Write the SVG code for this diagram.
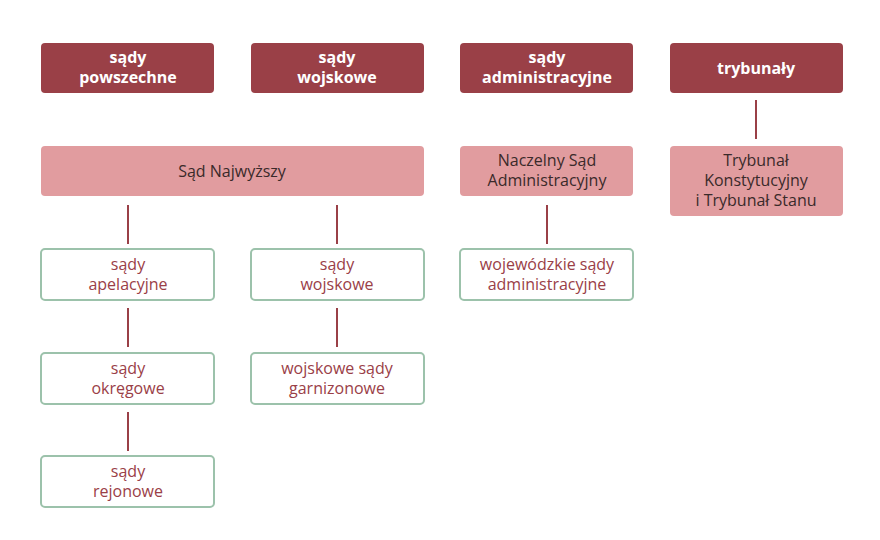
<svg xmlns="http://www.w3.org/2000/svg" width="880" height="540" viewBox="0 0 880 540">
<style>
.h{fill:#9a4047}.p{fill:#e19c9f}.g{fill:#fff;stroke:#9cc2ab;stroke-width:2}
text{font-family:"Open Sans",sans-serif;font-size:16px;text-anchor:middle}
.ht{fill:#fff;font-weight:bold}.pt{fill:#3a2a2a}.gt{fill:#9a4047}
.c line{stroke:#9a4047;stroke-width:2}
</style>
<rect width="880" height="540" fill="#fff"/>
<g id="n1"><rect class="h" x="41" y="43" width="173" height="50" rx="4"/><text class="ht" x="128" y="63">sądy</text><text class="ht" x="128" y="83">powszechne</text></g>
<g id="n2"><rect class="h" x="251" y="43" width="173" height="50" rx="4"/><text class="ht" x="337" y="63">sądy</text><text class="ht" x="337" y="83">wojskowe</text></g>
<g id="n3"><rect class="h" x="460" y="43" width="173" height="50" rx="4"/><text class="ht" x="547" y="63">sądy</text><text class="ht" x="547" y="83">administracyjne</text></g>
<g id="n4"><rect class="h" x="670" y="43" width="173" height="50" rx="4"/><text class="ht" x="756" y="74">trybunały</text></g>
<g id="sn"><rect class="p" x="41" y="146" width="383" height="50" rx="4"/><text class="pt" x="232" y="177">Sąd Najwyższy</text></g>
<g id="nsa"><rect class="p" x="460" y="146" width="173" height="50" rx="4"/><text class="pt" x="547" y="166">Naczelny Sąd</text><text class="pt" x="547" y="186">Administracyjny</text></g>
<g id="tk"><rect class="p" x="670" y="146" width="173" height="70" rx="4"/><text class="pt" x="756" y="166">Trybunał</text><text class="pt" x="756" y="186">Konstytucyjny</text><text class="pt" x="756" y="206">i Trybunał Stanu</text></g>
<g id="sa"><rect class="g" x="41" y="249" width="173" height="51" rx="4"/><text class="gt" x="128" y="270">sądy</text><text class="gt" x="128" y="290">apelacyjne</text></g>
<g id="sw"><rect class="g" x="251" y="249" width="173" height="51" rx="4"/><text class="gt" x="337" y="270">sądy</text><text class="gt" x="337" y="290">wojskowe</text></g>
<g id="wsa"><rect class="g" x="460" y="249" width="173" height="51" rx="4"/><text class="gt" x="547" y="270">wojewódzkie sądy</text><text class="gt" x="547" y="290">administracyjne</text></g>
<g id="so"><rect class="g" x="41" y="353" width="173" height="51" rx="4"/><text class="gt" x="128" y="374">sądy</text><text class="gt" x="128" y="394">okręgowe</text></g>
<g id="wsg"><rect class="g" x="251" y="353" width="173" height="51" rx="4"/><text class="gt" x="337" y="374">wojskowe sądy</text><text class="gt" x="337" y="394">garnizonowe</text></g>
<g id="sr"><rect class="g" x="41" y="456" width="173" height="51" rx="4"/><text class="gt" x="128" y="477">sądy</text><text class="gt" x="128" y="497">rejonowe</text></g>
<g class="c">
<line x1="128" y1="205" x2="128" y2="244"/><line x1="337" y1="205" x2="337" y2="244"/><line x1="547" y1="205" x2="547" y2="244"/><line x1="756" y1="100" x2="756" y2="139"/>
<line x1="128" y1="308" x2="128" y2="347"/><line x1="337" y1="308" x2="337" y2="347"/><line x1="128" y1="412" x2="128" y2="451"/>
</g>
</svg>
